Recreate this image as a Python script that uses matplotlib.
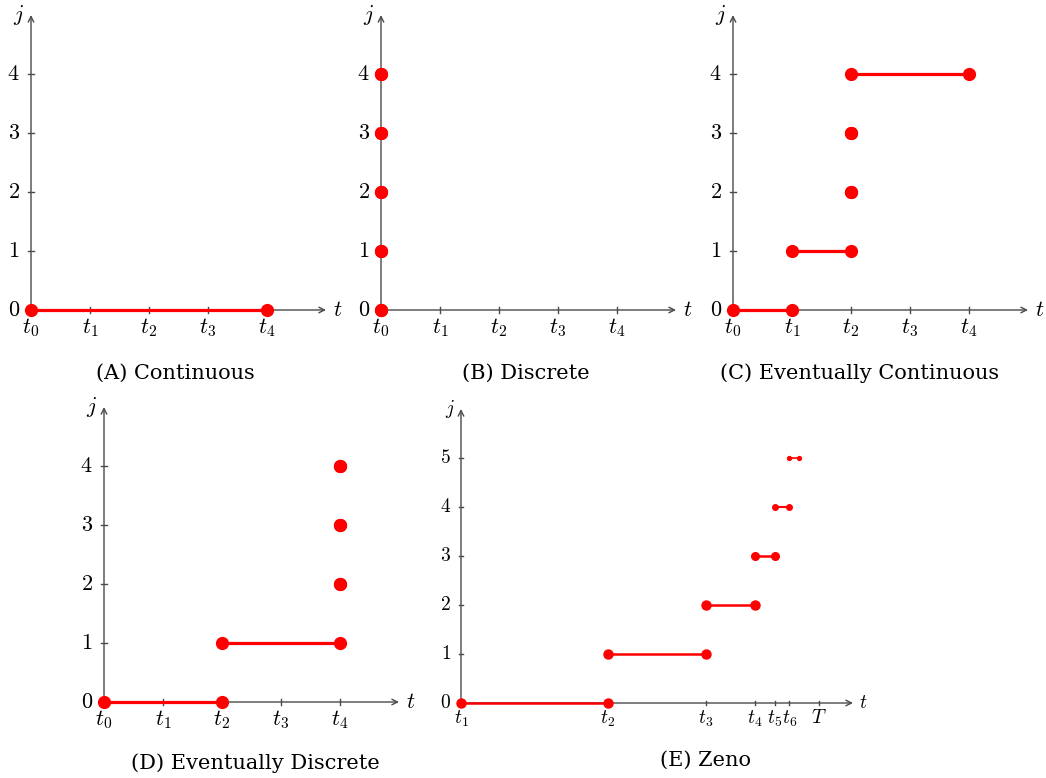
import matplotlib
matplotlib.use("Agg")
import matplotlib.pyplot as plt

plt.rcParams['mathtext.fontset'] = 'cm'
plt.rcParams['font.family'] = 'DejaVu Serif'

W, H = 1046, 778
RED = '#ff0000'
AXC = '#4a4a4a'

# hybrid arcs: each segment flows from seg_t0 to seg_t1 at jump count seg_j
a_t0 = [0]
a_t1 = [4]
a_j = [0]

b_t0 = [0, 0, 0, 0, 0]
b_t1 = [0, 0, 0, 0, 0]
b_j = [0, 1, 2, 3, 4]

c_t0 = [0, 1, 2, 2, 2]
c_t1 = [1, 2, 2, 2, 4]
c_j = [0, 1, 2, 3, 4]

d_t0 = [0, 2, 4, 4, 4]
d_t1 = [2, 4, 4, 4, 4]
d_j = [0, 1, 2, 3, 4]

# Zeno: jump times shrink towards T
e_times = [0, 3, 5, 6, 6.4, 6.7, 6.9]
e_j = [0, 1, 2, 3, 4, 5]
e_T = 7.3
e_msize = [6.5, 6.5, 6.5, 5.5, 4, 2.8]
e_lw = [1.8, 1.8, 1.8, 1.8, 1.5, 1.2]

t_labels = ['$t_0$', '$t_1$', '$t_2$', '$t_3$', '$t_4$']
e_labels = ['$t_1$', '$t_2$', '$t_3$', '$t_4$', '$t_5$', '$t_6$', '$T$']

fig = plt.figure(figsize=(W / 100, H / 100), dpi=100)


def make_ax(ox, oy, u, x0, x1, y0, y1):
    left = ox + x0 * u
    right = ox + x1 * u
    bottom = oy - y0 * u
    top = oy - y1 * u
    ax = fig.add_axes([left / W, 1 - bottom / H, (right - left) / W, (bottom - top) / H])
    ax.set_xlim(x0, x1)
    ax.set_ylim(y0, y1)
    for s in ax.spines.values():
        s.set_visible(False)
    ax.patch.set_alpha(0)
    return ax


def draw_axes(ax, xmax, ymax, xticks, xlabels, yticks, fs, xoff, yoff):
    ax.annotate('', xy=(xmax, 0), xytext=(0, 0),
                arrowprops=dict(arrowstyle='->', color=AXC, lw=1.0, shrinkA=0, shrinkB=0))
    ax.annotate('', xy=(0, ymax), xytext=(0, 0),
                arrowprops=dict(arrowstyle='->', color=AXC, lw=1.0, shrinkA=0, shrinkB=0))
    ax.text(xmax + 0.12, 0, '$t$', fontsize=fs, ha='left', va='center')
    ax.text(-0.12, ymax, '$j$', fontsize=fs, ha='right', va='center')
    for x, lab in zip(xticks, xlabels):
        if x != 0:
            ax.plot([x, x], [-0.05, 0.05], color=AXC, lw=1.0)
        ax.text(x, -xoff, lab, fontsize=fs, ha='center', va='top')
    for y in yticks:
        if y != 0:
            ax.plot([-0.05, 0.05], [y, y], color=AXC, lw=1.0)
        ax.text(-yoff, y, '$%d$' % y, fontsize=fs, ha='right', va='center')
    ax.set_xticks([])
    ax.set_yticks([])


def draw_arc(ax, t0, t1, js, ms=8.5, lw=2.3):
    for a, b, j in zip(t0, t1, js):
        ax.plot([a, b], [j, j], color=RED, lw=lw, solid_capstyle='butt', zorder=3)
        ax.plot([a, b], [j, j], 'o', color=RED, ms=ms, zorder=4, clip_on=False)


top_panels = [
    (31, a_t0, a_t1, a_j, '(A) Continuous', 175),
    (381, b_t0, b_t1, b_j, '(B) Discrete', 526),
    (733, c_t0, c_t1, c_j, '(C) Eventually Continuous', 860),
]
for ox, t0, t1, js, cap, cx in top_panels:
    ax = make_ax(ox, 310, 59, -0.5, 5.5, -0.6, 5.2)
    draw_axes(ax, 5.0, 5.0, [0, 1, 2, 3, 4], t_labels, [0, 1, 2, 3, 4], 16, 0.1, 0.19)
    draw_arc(ax, t0, t1, js)
    fig.text(cx / W, 1 - 373 / H, cap, fontsize=15, ha='center', va='center')

ax = make_ax(104, 702, 59, -0.5, 5.5, -0.6, 5.2)
draw_axes(ax, 5.0, 5.0, [0, 1, 2, 3, 4], t_labels, [0, 1, 2, 3, 4], 16, 0.1, 0.19)
draw_arc(ax, d_t0, d_t1, d_j)
fig.text(255 / W, 1 - 763 / H, '(D) Eventually Discrete', fontsize=15, ha='center', va='center')

ax = make_ax(461, 703, 49, -0.6, 8.6, -0.7, 6.2)
draw_axes(ax, 8.0, 6.0, e_times[:6] + [e_T], e_labels, [0, 1, 2, 3, 4, 5], 14, 0.12, 0.2)
for k, j in enumerate(e_j):
    draw_arc(ax, [e_times[k]], [e_times[k + 1]], [j], ms=e_msize[k], lw=e_lw[k])
fig.text(705 / W, 1 - 760 / H, '(E) Zeno', fontsize=15, ha='center', va='center')

fig.savefig('out.png', dpi=100)
